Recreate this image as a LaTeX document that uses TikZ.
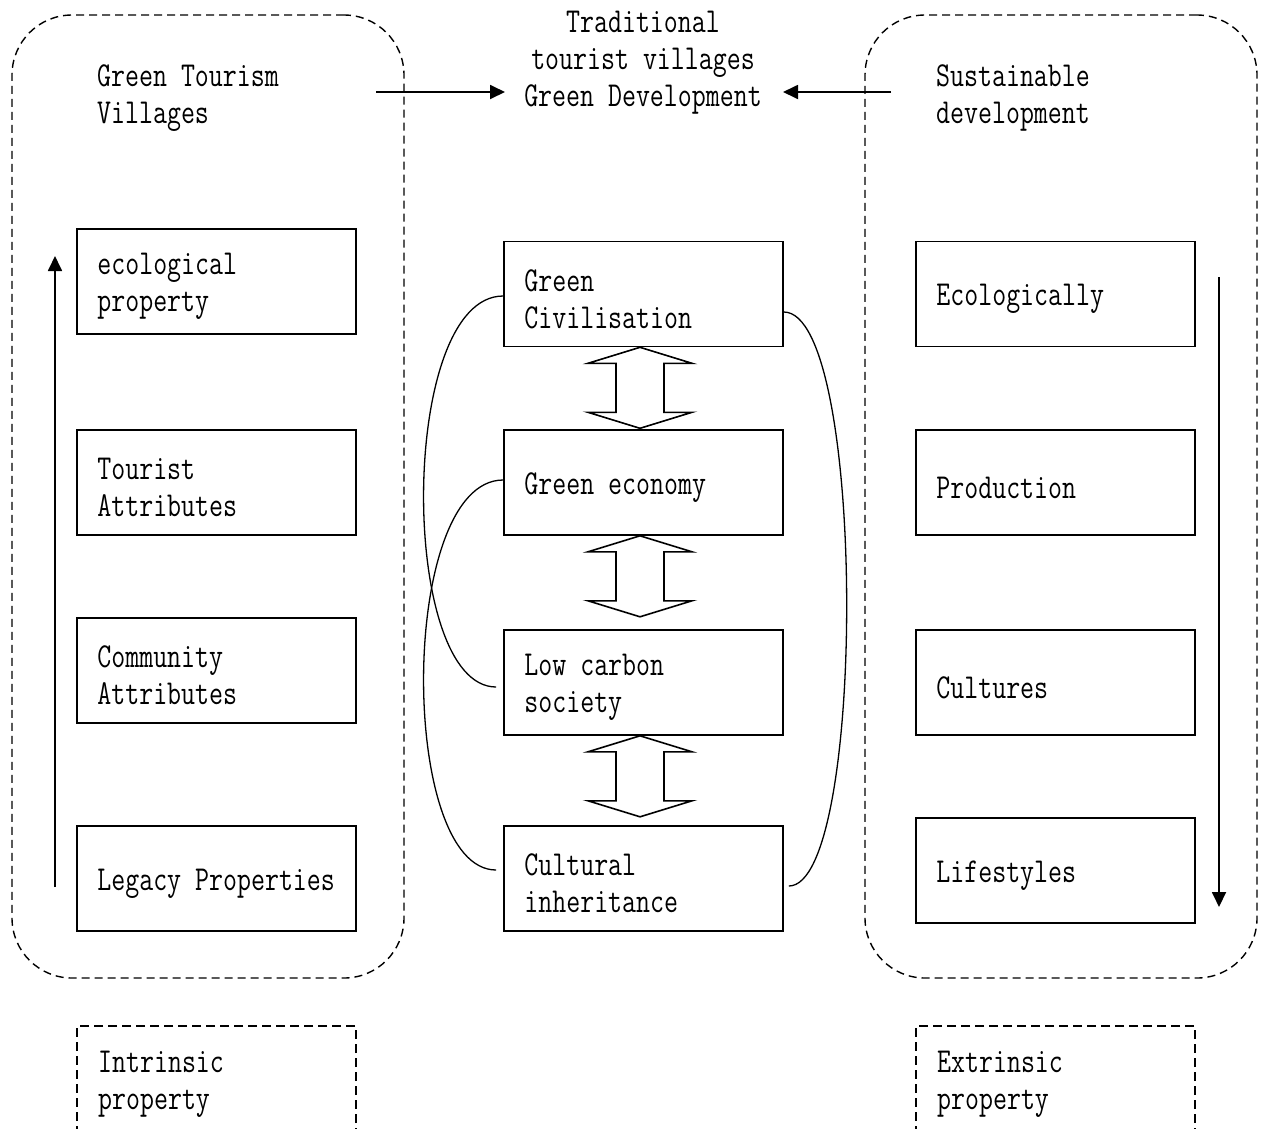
\documentclass[tikz,border=0pt]{standalone}
\usepackage{fontspec}
\newfontfamily\monofam[FakeStretch=0.775]{Latin Modern Mono}
\usetikzlibrary{arrows.meta}
\begin{document}
\begin{tikzpicture}[x=1pt,y=-1pt,
  every node/.style={font=\monofam\fontsize{35}{37}\selectfont},
  box/.style={draw,line width=1.6pt,minimum width=279pt,minimum height=105pt,inner sep=0pt},
  lbl/.style={anchor=west,align=left,inner sep=0pt},
  container/.style={draw,line width=1.4pt,dash pattern=on 8pt off 5pt,rounded corners=60pt,minimum width=392pt,minimum height=963pt,inner sep=0pt},
  dbox/.style={draw,line width=1.4pt,dash pattern=on 9pt off 5pt,minimum width=279pt,minimum height=140pt,inner sep=0pt},
  arr/.style={line width=1.8pt,-{Triangle[length=15pt,width=14pt]}},
  curve/.style={line width=1.3pt},
  dbl/.style={line width=1.6pt,fill=white}
]
\path[use as bounding box] (0,0) rectangle (1263,1128);
\clip (0,0) rectangle (1263,1128);

% containers
\node[container] (LC) at (208,496.5) {};
\node[container] (RC) at (1061,496.5) {};

% titles
\node[align=center,inner sep=0pt] (T) at (643,62.5) {Traditional\\tourist villages\\Green Development};
\node[lbl] (LT) at (97,98) {Green Tourism\\Villages};
\node[lbl] (RT) at (936,98) {Sustainable\\development};

\coordinate (la0) at (376,92);
\coordinate (la1) at (505,92);
\coordinate (ra0) at (891,92);
\coordinate (ra1) at (783,92);
\draw[arr] (la0) -- (la1);
\draw[arr] (ra0) -- (ra1);

% boxes
\newcommand\mybox[3]{%
  \node[box] (#1) at (#2) {};
  \node[lbl] (#1t) at ([shift={(21,5)}]#1.west) {#3};}
\mybox{L1}{216.5,281.5}{ecological\\property}
\mybox{L2}{216.5,482.5}{Tourist\\Attributes}
\mybox{L3}{216.5,670.5}{Community\\Attributes}
\mybox{L4}{216.5,878.5}{Legacy Properties}

\mybox{M1}{643.5,294}{Green\\Civilisation}
\mybox{M2}{643.5,482.5}{Green economy}
\mybox{M3}{643.5,682.5}{Low carbon\\society}
\mybox{M4}{643.5,878.5}{Cultural\\inheritance}

\mybox{R1}{1055.5,294}{Ecologically}
\mybox{R2}{1055.5,482.5}{Production}
\mybox{R3}{1055.5,682.5}{Cultures}
\mybox{R4}{1055.5,870.5}{Lifestyles}

% bottom dashed boxes
\node[dbox] (IB) at (216.5,1096) {};
\node[lbl] (IBt) at (98,1084) {Intrinsic\\property};
\node[dbox] (EB) at (1055.5,1096) {};
\node[lbl] (EBt) at (937,1084) {Extrinsic\\property};

% vertical arrows
\coordinate (va0) at (55,887);
\coordinate (va1) at (55,256);
\draw[arr] (va0) -- (va1);
\coordinate (vb0) at (1219,277);
\coordinate (vb1) at (1219,907);
\draw[arr] (vb0) -- (vb1);

% double arrows
\newcommand\dblarrow[1]{%
  \draw[dbl] ([xshift=-3.5pt]#1.south) -- ++(52,16) -- ++(-28,0) -- ++(0,49) -- ++(28,0)
    -- ++(-52,16) -- ++(-52,-16) -- ++(28,0) -- ++(0,-49) -- ++(-28,0) -- cycle;}
\dblarrow{M1}
\dblarrow{M2}
\dblarrow{M3}

% curves
\draw[curve] ([shift={(0,2)}]M1.west) .. controls +(-105,0) and +(-98,0) .. ([shift={(-7,4.5)}]M3.west);
\draw[curve] ([shift={(0,-2.5)}]M2.west) .. controls +(-105,0) and +(-98,0) .. ([shift={(-7,-8.5)}]M4.west);
\draw[curve] ([shift={(0,18)}]M1.east) .. controls +(83,0) and +(78,0) .. ([shift={(5,7.5)}]M4.east);
\end{tikzpicture}
\end{document}
